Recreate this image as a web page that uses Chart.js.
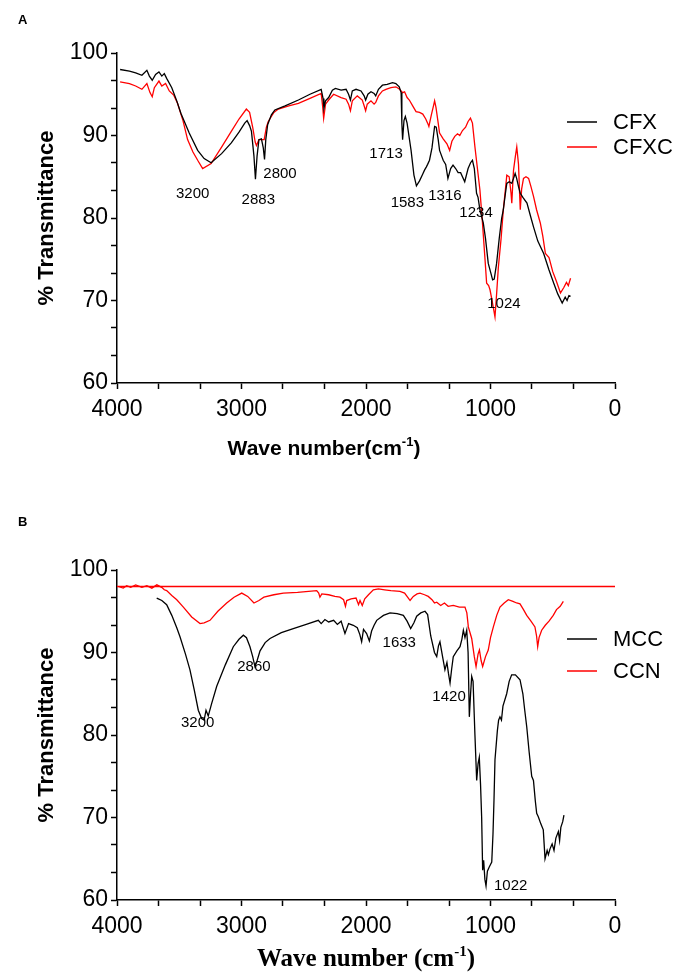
<!DOCTYPE html>
<html>
<head>
<meta charset="utf-8">
<script src="https://cdn.jsdelivr.net/npm/chart.js@4.4.0/dist/chart.umd.min.js"></script>
<style>
  body { margin: 0; background: #fff; }
  canvas { display: block; }
</style>
</head>
<body>
<canvas id="chartA" width="676" height="488"></canvas>
<canvas id="chartB" width="676" height="488"></canvas>
<script>
// [wave number, % transmittance]
const cfx = [
  [3975, 98.0], [3900, 97.8], [3850, 97.6], [3800, 97.3], [3760, 97.9], [3740, 97.2], [3717, 96.7], [3690, 97.4],
  [3663, 97.7], [3640, 97.2], [3620, 97.5], [3600, 96.9], [3560, 95.8], [3520, 94.2], [3487, 92.7], [3420, 90.3],
  [3352, 88.2], [3300, 87.2], [3244, 86.7], [3160, 87.8], [3082, 89.1], [3020, 90.4], [2974, 91.5], [2955, 91.8],
  [2935, 91.2], [2920, 90.5], [2900, 87.5], [2888, 84.7], [2875, 87.5], [2860, 89.5], [2840, 89.6], [2825, 88.5],
  [2815, 87.1], [2805, 89.5], [2790, 91.3], [2760, 92.5], [2732, 93.1], [2650, 93.6], [2543, 94.3], [2450, 95.0],
  [2360, 95.6], [2345, 94.5], [2338, 93.3], [2325, 94.2], [2300, 94.6], [2270, 95.5], [2246, 95.7], [2200, 95.5],
  [2160, 95.6], [2140, 95.0], [2125, 94.3], [2110, 95.4], [2080, 95.6], [2040, 95.4], [2015, 94.8], [2003, 94.3],
  [1985, 95.0], [1960, 95.3], [1935, 95.1], [1922, 94.8], [1900, 95.6], [1868, 96.1], [1830, 96.2], [1787, 96.4],
  [1760, 96.3], [1733, 95.9], [1718, 95.2], [1712, 91.5], [1706, 89.5], [1695, 91.8], [1684, 92.3], [1670, 91.5],
  [1638, 88.2], [1615, 85.2], [1595, 83.9], [1570, 84.5], [1545, 85.3], [1530, 85.8], [1515, 86.2], [1505, 86.5],
  [1490, 87.0], [1470, 88.5], [1449, 91.1], [1436, 91.0], [1420, 89.5], [1409, 88.2], [1380, 87.0], [1360, 86.5],
  [1342, 84.8], [1320, 86.0], [1301, 86.4], [1280, 86.0], [1260, 85.5], [1240, 85.5], [1207, 84.4], [1180, 86.0],
  [1160, 86.7], [1145, 87.0], [1130, 86.0], [1112, 83.0], [1100, 82.5], [1085, 81.0], [1058, 79.4], [1040, 77.5],
  [1018, 74.5], [995, 73.2], [983, 72.5], [970, 72.6], [951, 74.5], [930, 77.5], [910, 80.0], [897, 81.0],
  [880, 83.0], [869, 84.2], [850, 84.4], [829, 84.2], [815, 84.8], [802, 85.4], [790, 84.8], [775, 83.8],
  [761, 83.0], [740, 82.5], [707, 81.8], [680, 80.3], [654, 78.9], [620, 77.2], [573, 75.7], [530, 73.7],
  [492, 72.1], [460, 70.8], [424, 69.7], [400, 70.4], [385, 70.0], [370, 70.6], [357, 70.5]
];
const cfxc = [
  [3975, 96.5], [3900, 96.3], [3850, 96.0], [3800, 95.6], [3760, 96.3], [3735, 95.2], [3717, 94.7], [3700, 95.8],
  [3663, 96.6], [3640, 96.0], [3610, 96.3], [3580, 95.4], [3545, 94.9], [3514, 93.9], [3470, 91.8], [3433, 89.5],
  [3390, 88.0], [3352, 87.0], [3312, 86.0], [3244, 86.6], [3160, 88.6], [3082, 90.5], [3020, 92.0], [2961, 93.2],
  [2935, 92.8], [2910, 91.0], [2890, 89.2], [2880, 88.8], [2860, 89.5], [2840, 89.5], [2818, 89.5], [2800, 91.0],
  [2785, 91.7], [2740, 92.8], [2704, 93.2], [2620, 93.6], [2543, 93.9], [2450, 94.5], [2360, 95.1], [2348, 93.5],
  [2340, 92.1], [2325, 93.8], [2300, 94.3], [2260, 95.0], [2200, 94.6], [2160, 94.4], [2140, 93.8], [2125, 93.0],
  [2110, 94.2], [2070, 94.8], [2030, 94.3], [2015, 93.6], [2003, 93.0], [1990, 93.8], [1960, 94.2], [1935, 93.8],
  [1922, 94.0], [1900, 94.8], [1868, 95.4], [1840, 95.6], [1800, 95.8], [1760, 95.9], [1730, 95.6], [1706, 95.2],
  [1690, 95.3], [1670, 94.6], [1652, 94.3], [1625, 93.6], [1598, 92.9], [1570, 92.8], [1544, 92.6], [1520, 92.0],
  [1505, 91.5], [1495, 91.1], [1475, 92.5], [1458, 93.6], [1449, 94.2], [1438, 93.4], [1420, 91.5], [1409, 90.3],
  [1380, 89.6], [1350, 89.0], [1328, 88.2], [1310, 89.3], [1287, 89.9], [1265, 90.2], [1247, 90.0], [1225, 90.6],
  [1200, 91.0], [1180, 91.7], [1161, 92.1], [1145, 91.5], [1125, 88.6], [1105, 86.0], [1085, 83.4], [1065, 79.5],
  [1045, 75.2], [1031, 72.1], [1015, 71.8], [1004, 71.3], [985, 69.8], [964, 68.0], [950, 71.0], [937, 74.0],
  [915, 77.5], [897, 81.0], [880, 83.5], [869, 85.2], [850, 85.0], [835, 83.0], [829, 81.8], [820, 84.5],
  [815, 85.8], [800, 87.5], [789, 88.6], [775, 86.5], [765, 82.5], [761, 81.0], [750, 83.5], [735, 84.8],
  [715, 85.0], [694, 84.8], [675, 83.8], [654, 82.6], [630, 81.0], [600, 79.4], [580, 77.8], [559, 75.7],
  [530, 75.2], [500, 73.5], [470, 72.3], [438, 70.9], [410, 71.6], [390, 72.2], [375, 71.8], [357, 72.7]
];
const mcc = [
  [3681, 96.6], [3640, 96.3], [3601, 95.8], [3560, 94.5], [3520, 93.0], [3494, 91.9], [3450, 89.8], [3414, 87.9],
  [3380, 85.5], [3347, 83.0], [3320, 82.0], [3300, 81.8], [3285, 83.0], [3267, 82.3], [3240, 83.8], [3199, 85.9],
  [3130, 88.5], [3066, 90.7], [3020, 91.6], [2985, 92.1], [2960, 91.8], [2932, 90.7], [2910, 89.5], [2892, 88.3],
  [2875, 89.0], [2851, 90.2], [2810, 91.2], [2771, 91.7], [2680, 92.4], [2584, 92.9], [2480, 93.4], [2383, 93.9],
  [2360, 93.5], [2330, 94.0], [2300, 93.7], [2260, 93.9], [2230, 93.4], [2200, 93.8], [2169, 92.3], [2140, 93.5],
  [2102, 93.3], [2070, 93.0], [2050, 92.2], [2035, 91.3], [2020, 92.8], [1995, 92.3], [1973, 91.4], [1955, 92.6],
  [1935, 93.3], [1914, 93.9], [1860, 94.5], [1807, 94.8], [1750, 94.7], [1700, 94.5], [1670, 93.8], [1641, 92.9],
  [1615, 93.6], [1593, 94.4], [1560, 94.8], [1526, 95.0], [1505, 94.6], [1480, 92.0], [1450, 90.0], [1432, 89.5],
  [1418, 90.8], [1406, 91.3], [1385, 89.5], [1366, 87.9], [1350, 88.8], [1338, 87.5], [1325, 86.3], [1312, 88.0],
  [1299, 89.5], [1270, 90.2], [1245, 90.7], [1230, 91.6], [1218, 92.7], [1205, 91.8], [1191, 92.7], [1180, 90.0],
  [1170, 82.2], [1160, 85.0], [1151, 87.1], [1140, 86.5], [1125, 80.0], [1111, 74.5], [1100, 76.5], [1090, 77.3],
  [1080, 74.0], [1071, 70.0], [1063, 63.6], [1055, 64.8], [1045, 62.5], [1036, 61.7], [1025, 63.5], [1010, 64.0],
  [990, 64.6], [980, 68.0], [972, 72.1], [964, 77.0], [945, 80.5], [935, 81.8], [924, 82.2], [912, 81.8],
  [900, 83.5], [870, 85.0], [850, 86.5], [830, 87.3], [800, 87.3], [763, 86.7], [740, 85.0], [725, 83.0],
  [709, 81.0], [690, 78.0], [669, 75.0], [655, 74.5], [640, 72.0], [629, 70.5], [616, 70.1], [595, 69.2],
  [576, 68.5], [568, 66.5], [562, 65.0], [545, 66.0], [535, 65.5], [522, 66.2], [505, 66.8], [490, 66.0],
  [475, 67.5], [455, 68.3], [445, 67.2], [435, 68.8], [420, 69.5], [410, 70.3]
];
const ccn = [
  [3990, 98.0], [3950, 97.8], [3922, 98.1], [3890, 97.9], [3850, 98.2], [3800, 97.9], [3760, 98.1], [3720, 97.8],
  [3680, 98.2], [3641, 97.9], [3620, 97.6], [3601, 97.5], [3560, 96.9], [3520, 96.4], [3467, 95.5], [3400, 94.3],
  [3333, 93.5], [3300, 93.6], [3253, 93.9], [3190, 95.0], [3119, 96.0], [3060, 96.7], [2998, 97.2], [2950, 96.8],
  [2900, 96.0], [2860, 96.3], [2820, 96.7], [2740, 97.0], [2664, 97.2], [2550, 97.3], [2396, 97.5], [2380, 97.2],
  [2370, 96.7], [2355, 97.1], [2300, 97.0], [2250, 96.8], [2209, 96.7], [2180, 96.4], [2165, 95.6], [2155, 96.3],
  [2120, 96.5], [2080, 96.6], [2060, 95.8], [2048, 96.3], [2030, 95.7], [2010, 96.5], [1980, 97.0], [1941, 97.6],
  [1900, 97.7], [1850, 97.6], [1800, 97.5], [1727, 97.4], [1690, 97.2], [1660, 96.6], [1646, 96.3], [1620, 96.8],
  [1590, 97.1], [1566, 97.2], [1530, 97.0], [1500, 96.8], [1470, 96.4], [1450, 96.0], [1432, 96.1], [1400, 95.7],
  [1370, 96.0], [1340, 95.6], [1299, 95.7], [1250, 95.5], [1205, 95.5], [1190, 94.8], [1178, 93.1], [1151, 91.7],
  [1130, 89.5], [1116, 88.3], [1100, 89.8], [1089, 90.3], [1075, 89.0], [1063, 88.3], [1040, 89.5], [1018, 90.3],
  [1000, 91.8], [977, 93.1], [950, 94.5], [924, 95.5], [890, 96.0], [857, 96.4], [820, 96.2], [790, 96.0],
  [763, 95.9], [735, 95.2], [709, 94.5], [675, 93.8], [643, 93.1], [630, 92.0], [621, 90.7], [610, 91.8],
  [589, 92.7], [560, 93.3], [530, 93.8], [496, 94.5], [470, 95.2], [440, 95.6], [415, 96.2]
];
const ccnBaseline = [[4000, 98], [0, 98]];

const xTickValues = [4000, 3666.67, 3333.33, 3000, 2666.67, 2333.33, 2000, 1666.67, 1333.33, 1000, 666.67, 333.33, 0];
const yTickValues = [60, 63.33, 66.67, 70, 73.33, 76.67, 80, 83.33, 86.67, 90, 93.33, 96.67, 100];

const peakLabelsA = ['3200', '2883', '2800', '1713', '1583', '1316', '1234', '1024'];
const peakLabelsB = ['3200', '2860', '1633', '1420', '1022'];

// where the peak labels sit, in data units
const peakPosA = [[3392, 82.9], [2865, 82.2], [2691, 85.4], [1839, 87.8], [1668, 81.8], [1366, 82.7], [1116, 80.6], [892, 69.6]];
const peakPosB = [[3352, 81.5], [2900, 88.3], [1733, 91.2], [1333, 84.6], [838, 61.7]];

const SANS = '"Liberation Sans", Arial, sans-serif';
const SERIF = '"Liberation Serif", "Times New Roman", serif';

function pts(arr) {
  return arr.map(p => ({ x: p[0], y: p[1] }));
}

function line(label, arr, color) {
  return {
    label: label,
    data: pts(arr),
    borderColor: color,
    borderWidth: 1.3,
    pointRadius: 0,
    tension: 0,
    fill: false
  };
}

function drawTitle(ctx, pre, sup, post, cx, baseline, size, family) {
  const f = 'bold ' + size + 'px ' + family;
  const fs = 'bold ' + Math.round(size * 0.6) + 'px ' + family;
  ctx.font = f;
  const w1 = ctx.measureText(pre).width;
  const w3 = ctx.measureText(post).width;
  ctx.font = fs;
  const w2 = ctx.measureText(sup).width;
  let x = cx - (w1 + w2 + w3) / 2;
  ctx.textAlign = 'left';
  ctx.textBaseline = 'alphabetic';
  ctx.font = f;
  ctx.fillText(pre, x, baseline);
  x += w1;
  ctx.font = fs;
  ctx.fillText(sup, x, baseline - size * 0.42);
  x += w2;
  ctx.font = f;
  ctx.fillText(post, x, baseline);
}

const extras = {
  id: 'extras',
  afterDraw(chart, args, o) {
    const ctx = chart.ctx;
    const xs = chart.scales.x;
    const ys = chart.scales.y;
    ctx.save();
    ctx.fillStyle = '#000';

    // panel letter
    ctx.font = 'bold 13px ' + SANS;
    ctx.textAlign = 'left';
    ctx.textBaseline = 'middle';
    ctx.fillText(o.panel, 18, o.panelY);

    // peak labels
    ctx.font = '15px ' + SANS;
    ctx.textAlign = 'center';
    o.peaks.forEach((t, i) => {
      ctx.fillText(t, xs.getPixelForValue(o.peakPos[i][0]), ys.getPixelForValue(o.peakPos[i][1]));
    });

    // legend
    ctx.font = '22px ' + SANS;
    ctx.textAlign = 'left';
    o.legend.forEach((idx, i) => {
      const ds = chart.data.datasets[idx];
      const y = o.legendY[i];
      ctx.strokeStyle = ds.borderColor;
      ctx.lineWidth = 1.5;
      ctx.beginPath();
      ctx.moveTo(567, y);
      ctx.lineTo(597, y);
      ctx.stroke();
      ctx.fillStyle = '#000';
      ctx.fillText(ds.label, 613, y + 1);
    });

    // y title
    ctx.save();
    ctx.translate(47, (chart.chartArea.top + chart.chartArea.bottom) / 2);
    ctx.rotate(-Math.PI / 2);
    ctx.font = 'bold 22px ' + SANS;
    ctx.textAlign = 'center';
    ctx.textBaseline = 'middle';
    ctx.fillText('% Transmittance', 0, 0);
    ctx.restore();

    // x title
    drawTitle(ctx, o.xTitle[0], '-1', ')', o.xTitleX, o.xTitleY, o.xTitleSize, o.xTitleFont);
    ctx.restore();
  }
};

function makeChart(id, datasets, top, bottom, extra) {
  return new Chart(document.getElementById(id), {
    type: 'line',
    data: { datasets: datasets },
    options: {
      responsive: false,
      animation: false,
      layout: { padding: { left: 0, right: 61, top: top, bottom: bottom } },
      plugins: {
        legend: { display: false },
        tooltip: { enabled: false },
        extras: extra
      },
      scales: {
        x: {
          type: 'linear',
          min: 0,
          max: 4000,
          reverse: true,
          afterBuildTicks: s => { s.ticks = xTickValues.map(v => ({ value: v })); },
          afterFit: s => { s.height = 40; },
          ticks: {
            autoSkip: false,
            maxRotation: 0,
            padding: 7,
            color: '#000',
            font: { family: SANS, size: 23 },
            callback: v => (Math.abs(v % 1000) < 1 ? String(Math.round(v)) : '')
          },
          grid: { drawOnChartArea: false, drawTicks: true, tickLength: 6, tickColor: '#000', tickWidth: 1.5 },
          border: { color: '#000', width: 1.5 }
        },
        y: {
          min: 60,
          max: 100,
          afterBuildTicks: s => { s.ticks = yTickValues.map(v => ({ value: v })); },
          afterFit: s => { s.width = 117; },
          ticks: {
            autoSkip: false,
            padding: 3,
            color: '#000',
            font: { family: SANS, size: 23 },
            callback: v => (Math.abs(v - Math.round(v)) < 0.01 && Math.round(v) % 10 === 0 ? String(Math.round(v)) : '')
          },
          grid: { drawOnChartArea: false, drawTicks: true, tickLength: 6, tickColor: '#000', tickWidth: 1.5 },
          border: { color: '#000', width: 1.5 }
        }
      }
    },
    plugins: [extras]
  });
}

makeChart('chartA', [line('CFX', cfx, '#000000'), line('CFXC', cfxc, '#ff0000')], 53, 65, {
  panel: 'A', panelY: 20,
  peaks: peakLabelsA, peakPos: peakPosA,
  legend: [0, 1], legendY: [122, 147],
  xTitle: ['Wave number(cm'], xTitleX: 324, xTitleY: 455, xTitleSize: 21, xTitleFont: SANS
});

makeChart('chartB', [line('MCC', mcc, '#000000'), line('CCN', ccn, '#ff0000'), line('', ccnBaseline, '#ff0000')], 82, 36, {
  panel: 'B', panelY: 34,
  peaks: peakLabelsB, peakPos: peakPosB,
  legend: [0, 1], legendY: [151, 183],
  xTitle: ['Wave number (cm'], xTitleX: 366, xTitleY: 478, xTitleSize: 25, xTitleFont: SERIF
});
</script>
</body>
</html>
